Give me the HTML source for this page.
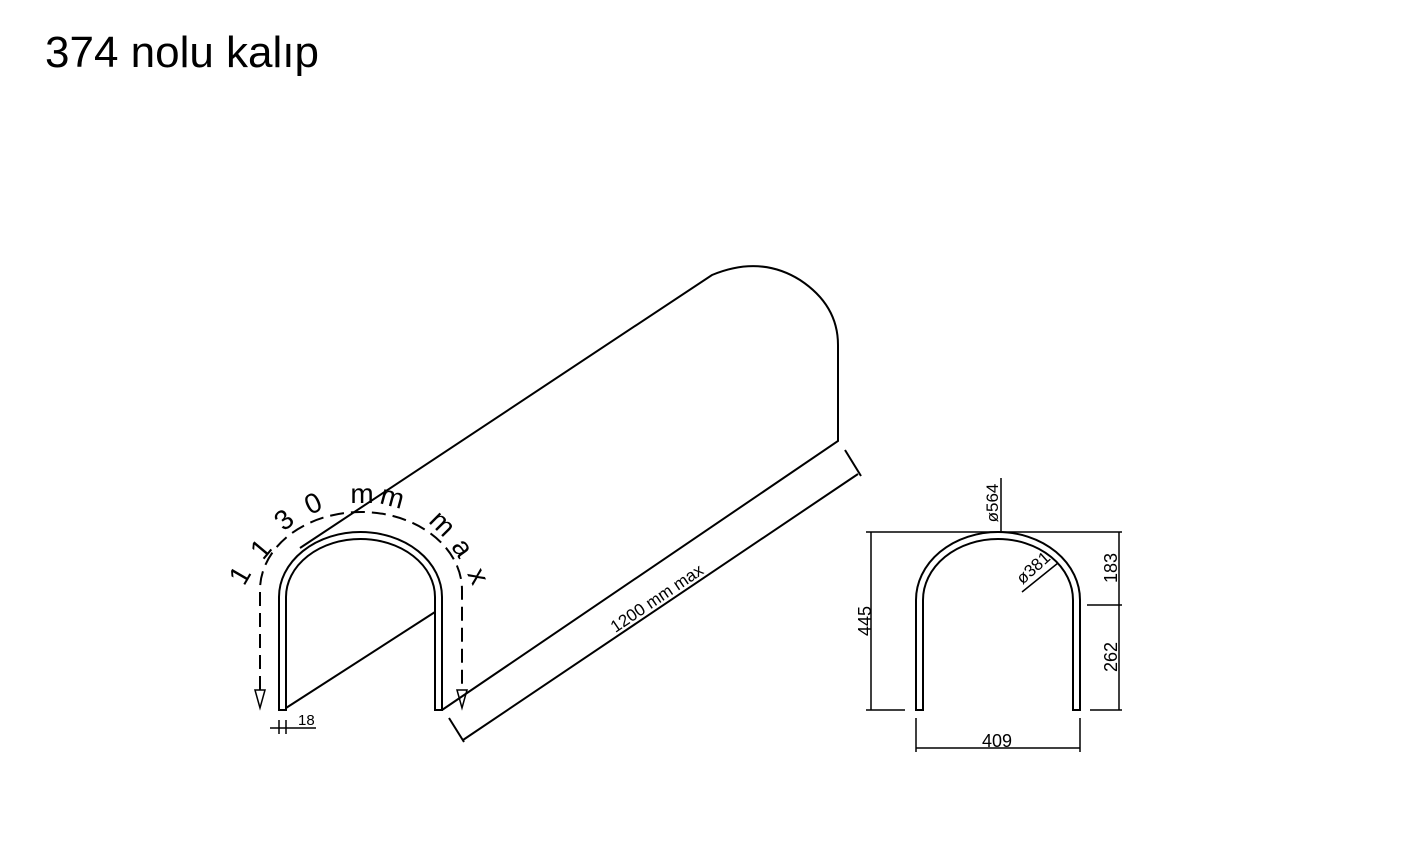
<!DOCTYPE html>
<html><head><meta charset="utf-8"><style>
html,body{margin:0;padding:0;background:#fff;width:1406px;height:854px;overflow:hidden}
svg{display:block}
text{font-family:"Liberation Sans",sans-serif;fill:#000}
</style></head><body>
<svg width="1406" height="854" viewBox="0 0 1406 854" xmlns="http://www.w3.org/2000/svg">
<text x="45" y="67" font-size="44">374 nolu kalıp</text>
<g fill="none" stroke="#000" stroke-width="2">
<path d="M279,710 L279,597 A81.5,65 0 0 1 442,597 L442,710 L435,710 L435,597 A74.5,58 0 0 0 286,597 L286,710 Z"/>
<path d="M300,548 L712,275 Q760,255 800,280 Q838,305 838,345 L838,441 L442,710"/>
<path d="M286,708 L435,612"/>
<path d="M463,740 L858,474 M449,718 L464,742 M845,450 L861,476"/>
<path d="M260,690 L260,590 A101,78 0 0 1 462,590 L462,690" stroke-dasharray="14,7"/>
<path d="M255,690 L260,708 L265,690 Z M457,690 L462,708 L467,690 Z" stroke-width="1.5"/>
<path d="M270,728 L316,728 M279,720 L279,734 M286,720 L286,734" stroke-width="1.5"/>
<path d="M916,710 L916,600 A82,68 0 0 1 1080,600 L1080,710 L1073,710 L1073,600 A75,61 0 0 0 923,600 L923,710 Z"/>
<g stroke-width="1.5">
<path d="M866,532 L1122,532 M871,532 L871,710 M866,710 L905,710 M1090,710 L1122,710 M1087,605 L1122,605 M1119,532 L1119,710"/>
<path d="M916,718 L916,752 M1080,718 L1080,752 M916,748 L1080,748"/>
<path d="M1001,478 L1001,532 M1022,592 L1058,563"/>
</g>
</g>
<text font-size="17" transform="translate(660,603) rotate(-34)" text-anchor="middle">1200 mm max</text>
<text font-size="15" transform="translate(298,725)">18</text>
<text font-size="18" transform="translate(997,747)" text-anchor="middle">409</text>
<text font-size="18" transform="translate(871,621) rotate(-90)" text-anchor="middle">445</text>
<text font-size="18" transform="translate(1117,568) rotate(-90)" text-anchor="middle">183</text>
<text font-size="18" transform="translate(1117,657) rotate(-90)" text-anchor="middle">262</text>
<text font-size="17" transform="translate(998,503) rotate(-90)" text-anchor="middle">ø564</text>
<text font-size="17" transform="translate(1037,572) rotate(-42)" text-anchor="middle">ø381</text>
<g font-size="28">
<text transform="translate(248,580) rotate(-60)" text-anchor="middle">1</text>
<text transform="translate(268,555) rotate(-50)" text-anchor="middle">1</text>
<text transform="translate(290,527) rotate(-40)" text-anchor="middle">3</text>
<text transform="translate(317,512) rotate(-25)" text-anchor="middle">0</text>
<text transform="translate(362,503) rotate(0)" text-anchor="middle">m</text>
<text transform="translate(390,506) rotate(15)" text-anchor="middle">m</text>
<text transform="translate(436,530) rotate(45)" text-anchor="middle">m</text>
<text transform="translate(455,553) rotate(55)" text-anchor="middle">a</text>
<text transform="translate(470,580) rotate(65)" text-anchor="middle">x</text>
</g>
</svg>
</body></html>
